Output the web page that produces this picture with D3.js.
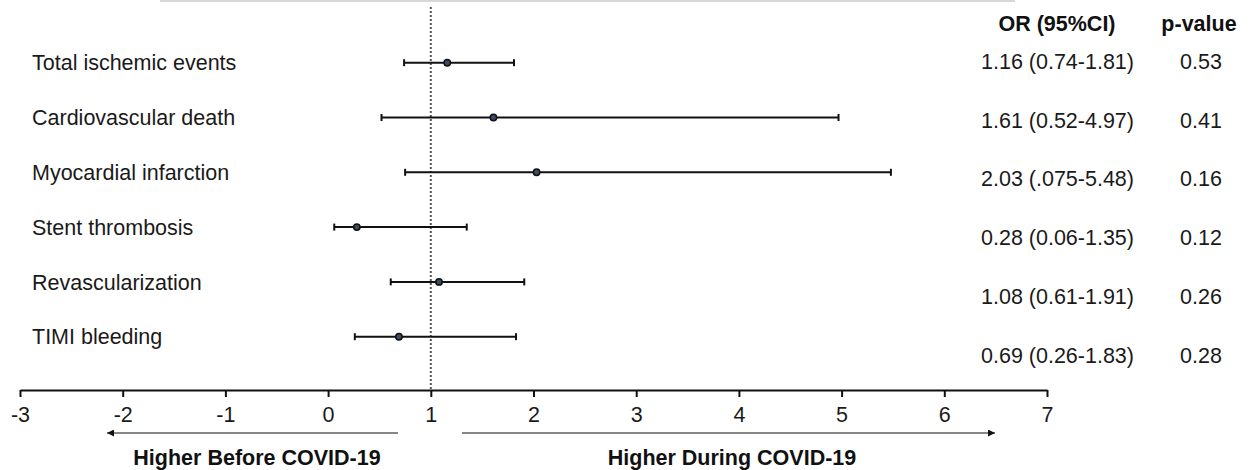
<!DOCTYPE html>
<html>
<head>
<meta charset="utf-8">
<script src="https://cdn.jsdelivr.net/npm/d3@7"></script>
<style>
  html, body { margin: 0; padding: 0; background: #fff; }
  svg { display: block; font-family: "Liberation Sans", Arial, sans-serif; }
</style>
</head>
<body>
<svg id="chart" width="1251" height="470"></svg>
<script>
// ---- data ----
const categories = ["Total ischemic events", "Cardiovascular death", "Myocardial infarction",
                    "Stent thrombosis", "Revascularization", "TIMI bleeding"];
const orValues   = [1.16, 1.61, 2.03, 0.28, 1.08, 0.69];
const ciLower    = [0.74, 0.52, 0.75, 0.06, 0.61, 0.26];
const ciUpper    = [1.81, 4.97, 5.48, 1.35, 1.91, 1.83];
const orLabels   = ["1.16 (0.74-1.81)", "1.61 (0.52-4.97)", "2.03 (.075-5.48)",
                    "0.28 (0.06-1.35)", "1.08 (0.61-1.91)", "0.69 (0.26-1.83)"];
const pValues    = ["0.53", "0.41", "0.16", "0.12", "0.26", "0.28"];
const xTicks     = [-3, -2, -1, 0, 1, 2, 3, 4, 5, 6, 7];
const headers    = ["OR (95%CI)", "p-value"];
const directionLabels = ["Higher Before COVID-19", "Higher During COVID-19"];

// ---- layout ----
const svg = d3.select("#chart");
const FS = 21.5;
const axisY = 390;
const x = d3.scaleLinear().domain([-3, 7]).range([20, 1047]);
const y = d3.scalePoint().domain(categories).range([62.7, 336.7]);
const yTable = d3.scalePoint().domain(categories).range([60.8, 355.6]);
const rows = categories.map((c, i) => ({ c, or: orValues[i], lo: ciLower[i], hi: ciUpper[i],
                                         orl: orLabels[i], p: pValues[i] }));

// top faint rule
svg.append("rect").attr("x", 160).attr("y", 0).attr("width", 855).attr("height", 2)
   .attr("fill", "#d6d6d6");

// reference line at OR = 1
svg.append("line")
   .attr("x1", x(1)).attr("x2", x(1)).attr("y1", 7).attr("y2", axisY)
   .attr("stroke", "#555").attr("stroke-width", 2).attr("stroke-dasharray", "2,2");

// row labels
svg.append("g").selectAll("text").data(rows).join("text")
   .attr("x", 32).attr("y", d => y(d.c) + FS * 0.36)
   .attr("font-size", FS).attr("fill", "#1a1a1a").text(d => d.c);

// error bars
const eb = svg.append("g").selectAll("g").data(rows).join("g");
eb.append("line").attr("x1", d => x(d.lo)).attr("x2", d => x(d.hi))
  .attr("y1", d => y(d.c)).attr("y2", d => y(d.c))
  .attr("stroke", "#111").attr("stroke-width", 2);
eb.append("line").attr("x1", d => x(d.lo)).attr("x2", d => x(d.lo))
  .attr("y1", d => y(d.c) - 3.5).attr("y2", d => y(d.c) + 3.5)
  .attr("stroke", "#111").attr("stroke-width", 2);
eb.append("line").attr("x1", d => x(d.hi)).attr("x2", d => x(d.hi))
  .attr("y1", d => y(d.c) - 3.5).attr("y2", d => y(d.c) + 3.5)
  .attr("stroke", "#111").attr("stroke-width", 2);
eb.append("circle").attr("cx", d => x(d.or)).attr("cy", d => y(d.c)).attr("r", 3.2)
  .attr("fill", "#3d4a66").attr("stroke", "#111").attr("stroke-width", 1.5);

// table headers
svg.append("text").attr("x", 1057).attr("y", 31).attr("text-anchor", "middle")
   .attr("font-size", FS).attr("font-weight", "bold").attr("fill", "#111").text(headers[0]);
svg.append("text").attr("x", 1199).attr("y", 31).attr("text-anchor", "middle")
   .attr("font-size", FS).attr("font-weight", "bold").attr("fill", "#111").text(headers[1]);

// table values
svg.append("g").selectAll("text").data(rows).join("text")
   .attr("x", 981).attr("y", d => yTable(d.c) + FS * 0.36)
   .attr("font-size", FS).attr("fill", "#1a1a1a").text(d => d.orl);
svg.append("g").selectAll("text").data(rows).join("text")
   .attr("x", 1201).attr("y", d => yTable(d.c) + FS * 0.36).attr("text-anchor", "middle")
   .attr("font-size", FS).attr("fill", "#1a1a1a").text(d => d.p);

// x axis
const axis = d3.axisBottom(x).tickValues(xTicks).tickFormat(d => String(d))
               .tickSize(7).tickSizeOuter(0).tickPadding(10);
const ag = svg.append("g").attr("transform", `translate(0,${axisY})`).call(axis);
ag.select(".domain").attr("stroke", "#111").attr("stroke-width", 2);
ag.selectAll(".tick line").attr("stroke", "#111").attr("stroke-width", 2);
ag.selectAll(".tick text").attr("font-size", FS).attr("fill", "#1a1a1a")
  .attr("font-family", "\"Liberation Sans\", Arial, sans-serif");

// direction arrows
const defs = svg.append("defs");
defs.append("marker").attr("id", "ah").attr("viewBox", "0 0 10 10")
    .attr("refX", 10).attr("refY", 5).attr("markerWidth", 9).attr("markerHeight", 7)
    .attr("markerUnits", "userSpaceOnUse").attr("orient", "auto")
    .append("path").attr("d", "M0,0 L10,5 L0,10 Z").attr("fill", "#111");
svg.append("line").attr("x1", 398).attr("x2", 107).attr("y1", 433).attr("y2", 433)
   .attr("stroke", "#111").attr("stroke-width", 1.2).attr("marker-end", "url(#ah)");
svg.append("line").attr("x1", 462).attr("x2", 995).attr("y1", 433).attr("y2", 433)
   .attr("stroke", "#111").attr("stroke-width", 1.2).attr("marker-end", "url(#ah)");
svg.append("text").attr("x", 257).attr("y", 465).attr("text-anchor", "middle")
   .attr("font-size", FS).attr("font-weight", "bold").attr("fill", "#111").text(directionLabels[0]);
svg.append("text").attr("x", 732).attr("y", 465).attr("text-anchor", "middle")
   .attr("font-size", FS).attr("font-weight", "bold").attr("fill", "#111").text(directionLabels[1]);
</script>
</body>
</html>
